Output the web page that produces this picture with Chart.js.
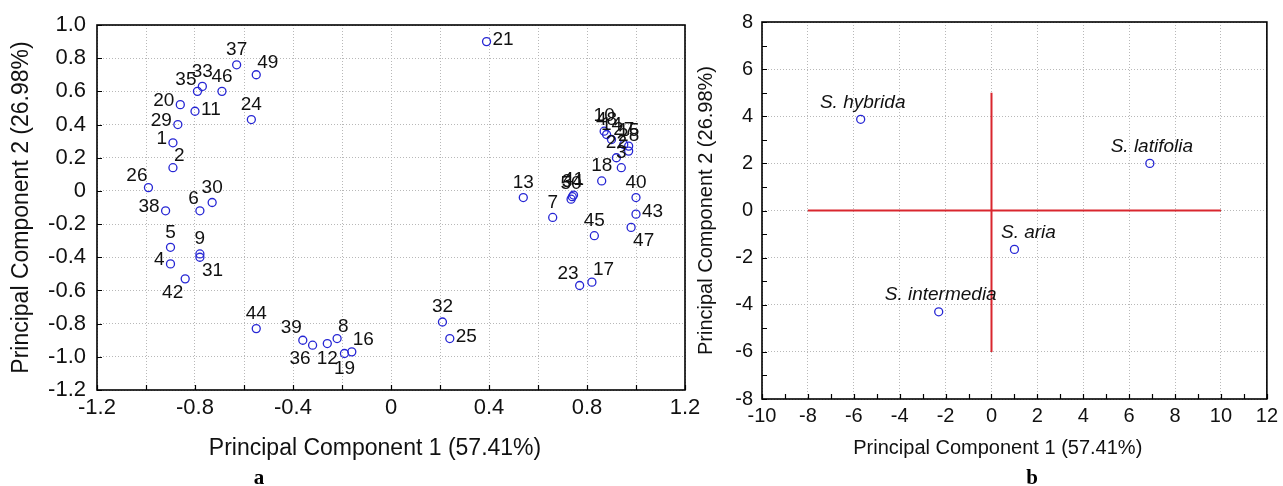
<!DOCTYPE html>
<html><head><meta charset="utf-8">
<script src="https://cdn.jsdelivr.net/npm/chart.js@4.4.1/dist/chart.umd.min.js"></script>
<style>
html,body{margin:0;padding:0;background:#fff;}
#wrap{position:relative;width:1283px;height:486px;overflow:hidden;background:#fff;}
canvas{position:absolute;left:0;top:0;}
.sub{position:absolute;font-family:"Liberation Serif","DejaVu Serif",serif;font-weight:bold;font-size:21px;color:#000;transform:translateX(-50%);line-height:1;}
</style></head><body>
<div id="wrap">
<canvas id="ca" width="1283" height="486"></canvas>
<canvas id="cb" width="1283" height="486"></canvas>
<div class="sub" style="left:259px;top:467px;">a</div>
<div class="sub" style="left:1032px;top:467px;">b</div>
</div>
<script>
// ---------- Panel a : individual samples ----------
const sampleIds = ['1','2','3','4','5','6','7','8','9','10','11','12','13','14','15','16','17','18','19','20','21','22','23','24','25','26','27','28','29','30','31','32','33','34','35','36','37','38','39','40','41','42','43','44','45','46','47','48','49','50'];
const samplePC1 = [-0.89,-0.89,0.94,-0.90,-0.90,-0.78,0.66,-0.22,-0.78,0.87,-0.80,-0.26,0.54,0.90,0.97,-0.16,0.82,0.86,-0.19,-0.86,0.39,0.92,0.77,-0.57,0.24,-0.99,0.95,0.97,-0.87,-0.73,-0.78,0.21,-0.77,0.74,-0.79,-0.32,-0.63,-0.92,-0.36,1.00,0.745,-0.84,1.00,-0.55,0.83,-0.69,0.98,0.88,-0.55,0.735];
const samplePC2 = [0.29,0.14,0.14,-0.44,-0.34,-0.12,-0.16,-0.89,-0.38,0.36,0.48,-0.92,-0.04,0.31,0.27,-0.97,-0.55,0.06,-0.98,0.52,0.90,0.20,-0.57,0.43,-0.89,0.02,0.28,0.24,0.40,-0.07,-0.40,-0.79,0.63,-0.035,0.60,-0.93,0.76,-0.12,-0.90,-0.04,-0.025,-0.53,-0.14,-0.83,-0.27,0.60,-0.22,0.34,0.70,-0.05];
// label placement relative to its point (style only)
const sampleLabelSide = ['W','NE','N','W','N','NW','N','NE','N','N','E','S','N','N','N','NE','NE','N','S','W','E','N','NW','N','E','NW','N','N','W','N','SE','N','N','N','NW','SW','N','W','NW','N','N','SW','E','N','N','N','SE','N','NE','N'];

// ---------- Panel b : species means ----------
const speciesNames = ['S. hybrida','S. latifolia','S. aria','S. intermedia'];
const speciesPC1 = [-5.7, 6.9, 1.0, -2.3];
const speciesPC2 = [3.87, 2.0, -1.65, -4.3];
const speciesLabelSide = ['N','N','NR','N'];
const crossH_x = [-8, 10];   // horizontal red line at PC2 = 0
const crossV_y = [-6, 5];    // vertical red line at PC1 = 0

const axisTitleX = 'Principal Component 1 (57.41%)';
const axisTitleY = 'Principal Component 2 (26.98%)';

const FONT = '"Liberation Sans", Arial, sans-serif';
const BLUE = '#2626d4';
const RED = '#d9262e';

const W = 1283, H = 486;

function frameAndTicks(stepX, stepY, len) {
  return {
    id: 'frame',
    beforeDatasetsDraw(chart) {
      const {ctx, chartArea: a, scales: {x, y}} = chart;
      ctx.save();
      ctx.strokeStyle = '#000';
      ctx.lineWidth = 1.2;
      ctx.beginPath();
      const nx = Math.round((x.max - x.min) / stepX);
      for (let i = 0; i <= nx; i++) {
        const px = Math.round(x.getPixelForValue(x.min + i * stepX)) + 0.5;
        ctx.moveTo(px, a.bottom); ctx.lineTo(px, a.bottom - len);
      }
      const ny = Math.round((y.max - y.min) / stepY);
      for (let i = 0; i <= ny; i++) {
        const py = Math.round(y.getPixelForValue(y.min + i * stepY)) + 0.5;
        ctx.moveTo(a.left, py); ctx.lineTo(a.left + len, py);
      }
      ctx.stroke();
      ctx.lineWidth = 1.6;
      ctx.strokeRect(a.left, a.top, a.right - a.left, a.bottom - a.top);
      ctx.restore();
    }
  };
}

const sampleLabelPlugin = {
  id: 'sampleLabels',
  afterDatasetsDraw(chart) {
    const {ctx} = chart;
    const meta = chart.getDatasetMeta(0);
    ctx.save();
    ctx.fillStyle = '#111';
    ctx.font = '19px ' + FONT;
    ctx.textBaseline = 'middle';
    const off = {
      N: ['center', 0, -15], S: ['center', 0, 15],
      E: ['left', 6, -2], W: ['right', -6, -4],
      NE: ['left', 1, -12], NW: ['right', -1, -12],
      SE: ['left', 2, 13], SW: ['right', -2, 14]
    };
    meta.data.forEach((pt, i) => {
      const o = off[sampleLabelSide[i]] || off.N;
      ctx.textAlign = o[0];
      ctx.fillText(sampleIds[i], pt.x + o[1], pt.y + o[2]);
    });
    ctx.restore();
  }
};

const speciesLabelPlugin = {
  id: 'speciesLabels',
  afterDatasetsDraw(chart) {
    const {ctx} = chart;
    const meta = chart.getDatasetMeta(2);
    ctx.save();
    ctx.fillStyle = '#111';
    ctx.font = 'italic 19px ' + FONT;
    ctx.textBaseline = 'middle';
    ctx.textAlign = 'center';
    meta.data.forEach((pt, i) => {
      const dx = speciesLabelSide[i] === 'NR' ? 14 : 2;
      ctx.fillText(speciesNames[i], pt.x + dx, pt.y - 17);
    });
    ctx.restore();
  }
};

function fmt1(v) { const k = Math.round(v * 10); return k === 0 ? '0' : (k / 10).toFixed(1); }

// ---------- Chart a ----------
new Chart(document.getElementById('ca'), {
  type: 'scatter',
  data: {
    datasets: [{
      data: samplePC1.map((v, i) => ({x: v, y: samplePC2[i]})),
      pointStyle: 'circle',
      pointRadius: 4,
      pointBorderWidth: 1.3,
      borderColor: BLUE,
      backgroundColor: 'rgba(0,0,0,0)'
    }]
  },
  options: {
    responsive: false, animation: false, events: [],
    layout: {padding: {left: 0, top: 25, right: W - 685, bottom: 0}},
    plugins: {legend: {display: false}, tooltip: {enabled: false}},
    scales: {
      x: {
        type: 'linear', min: -1.2, max: 1.2,
        afterFit(s) { s.height = H - 390; },
        ticks: {stepSize: 0.2, autoSkip: false, maxRotation: 0, padding: 5, color: '#111',
          font: {family: FONT, size: 22},
          callback(v) { const k = Math.round(v * 10); if (k % 4 !== 0) return ''; return fmt1(v); }},
        grid: {color: '#b8b8b8', lineWidth: 1, drawTicks: false},
        border: {display: false, dash: [1, 2]},
        title: {display: true, text: axisTitleX + '     ', color: '#111', font: {family: FONT, size: 23}, padding: {top: 0, bottom: 24}}
      },
      y: {
        type: 'linear', min: -1.2, max: 1.0,
        afterFit(s) { s.width = 97; },
        ticks: {stepSize: 0.2, autoSkip: false, padding: 11, color: '#111',
          font: {family: FONT, size: 22}, callback: fmt1},
        grid: {color: '#b8b8b8', lineWidth: 1, drawTicks: false},
        border: {display: false, dash: [1, 2]},
        title: {display: true, text: axisTitleY, color: '#111', font: {family: FONT, size: 23}, padding: {top: 8, bottom: 0}}
      }
    }
  },
  plugins: [frameAndTicks(0.2, 0.2, 5), sampleLabelPlugin]
});

// ---------- Chart b ----------
new Chart(document.getElementById('cb'), {
  type: 'scatter',
  data: {
    datasets: [
      {type: 'line', data: crossH_x.map(v => ({x: v, y: 0})), borderColor: RED, borderWidth: 2, pointRadius: 0, fill: false, order: 2},
      {type: 'line', data: crossV_y.map(v => ({x: 0, y: v})), borderColor: RED, borderWidth: 2, pointRadius: 0, fill: false, order: 2},
      {
        data: speciesPC1.map((v, i) => ({x: v, y: speciesPC2[i]})),
        pointStyle: 'circle', pointRadius: 4, pointBorderWidth: 1.3,
        borderColor: BLUE, backgroundColor: 'rgba(0,0,0,0)', order: 1
      }
    ]
  },
  options: {
    responsive: false, animation: false, events: [],
    layout: {padding: {left: 690, top: 22, right: W - 1267, bottom: 0}},
    plugins: {legend: {display: false}, tooltip: {enabled: false}},
    scales: {
      x: {
        type: 'linear', min: -10, max: 12,
        afterFit(s) { s.height = H - 399; },
        ticks: {stepSize: 2, autoSkip: false, maxRotation: 0, padding: 5, color: '#111',
          font: {family: FONT, size: 20}},
        grid: {color: '#b8b8b8', lineWidth: 1, drawTicks: false},
        border: {display: false, dash: [1, 2]},
        title: {display: true, text: axisTitleX + '      ', color: '#111', font: {family: FONT, size: 20}, padding: {top: 0, bottom: 26}}
      },
      y: {
        type: 'linear', min: -8, max: 8,
        afterFit(s) { s.width = 72; },
        ticks: {stepSize: 2, autoSkip: false, padding: 9, color: '#111',
          font: {family: FONT, size: 20}},
        grid: {color: '#b8b8b8', lineWidth: 1, drawTicks: false},
        border: {display: false, dash: [1, 2]},
        title: {display: true, text: axisTitleY, color: '#111', font: {family: FONT, size: 20}, padding: {top: 4, bottom: 0}}
      }
    }
  },
  plugins: [frameAndTicks(1, 1, 5), speciesLabelPlugin]
});
</script>
</body></html>
